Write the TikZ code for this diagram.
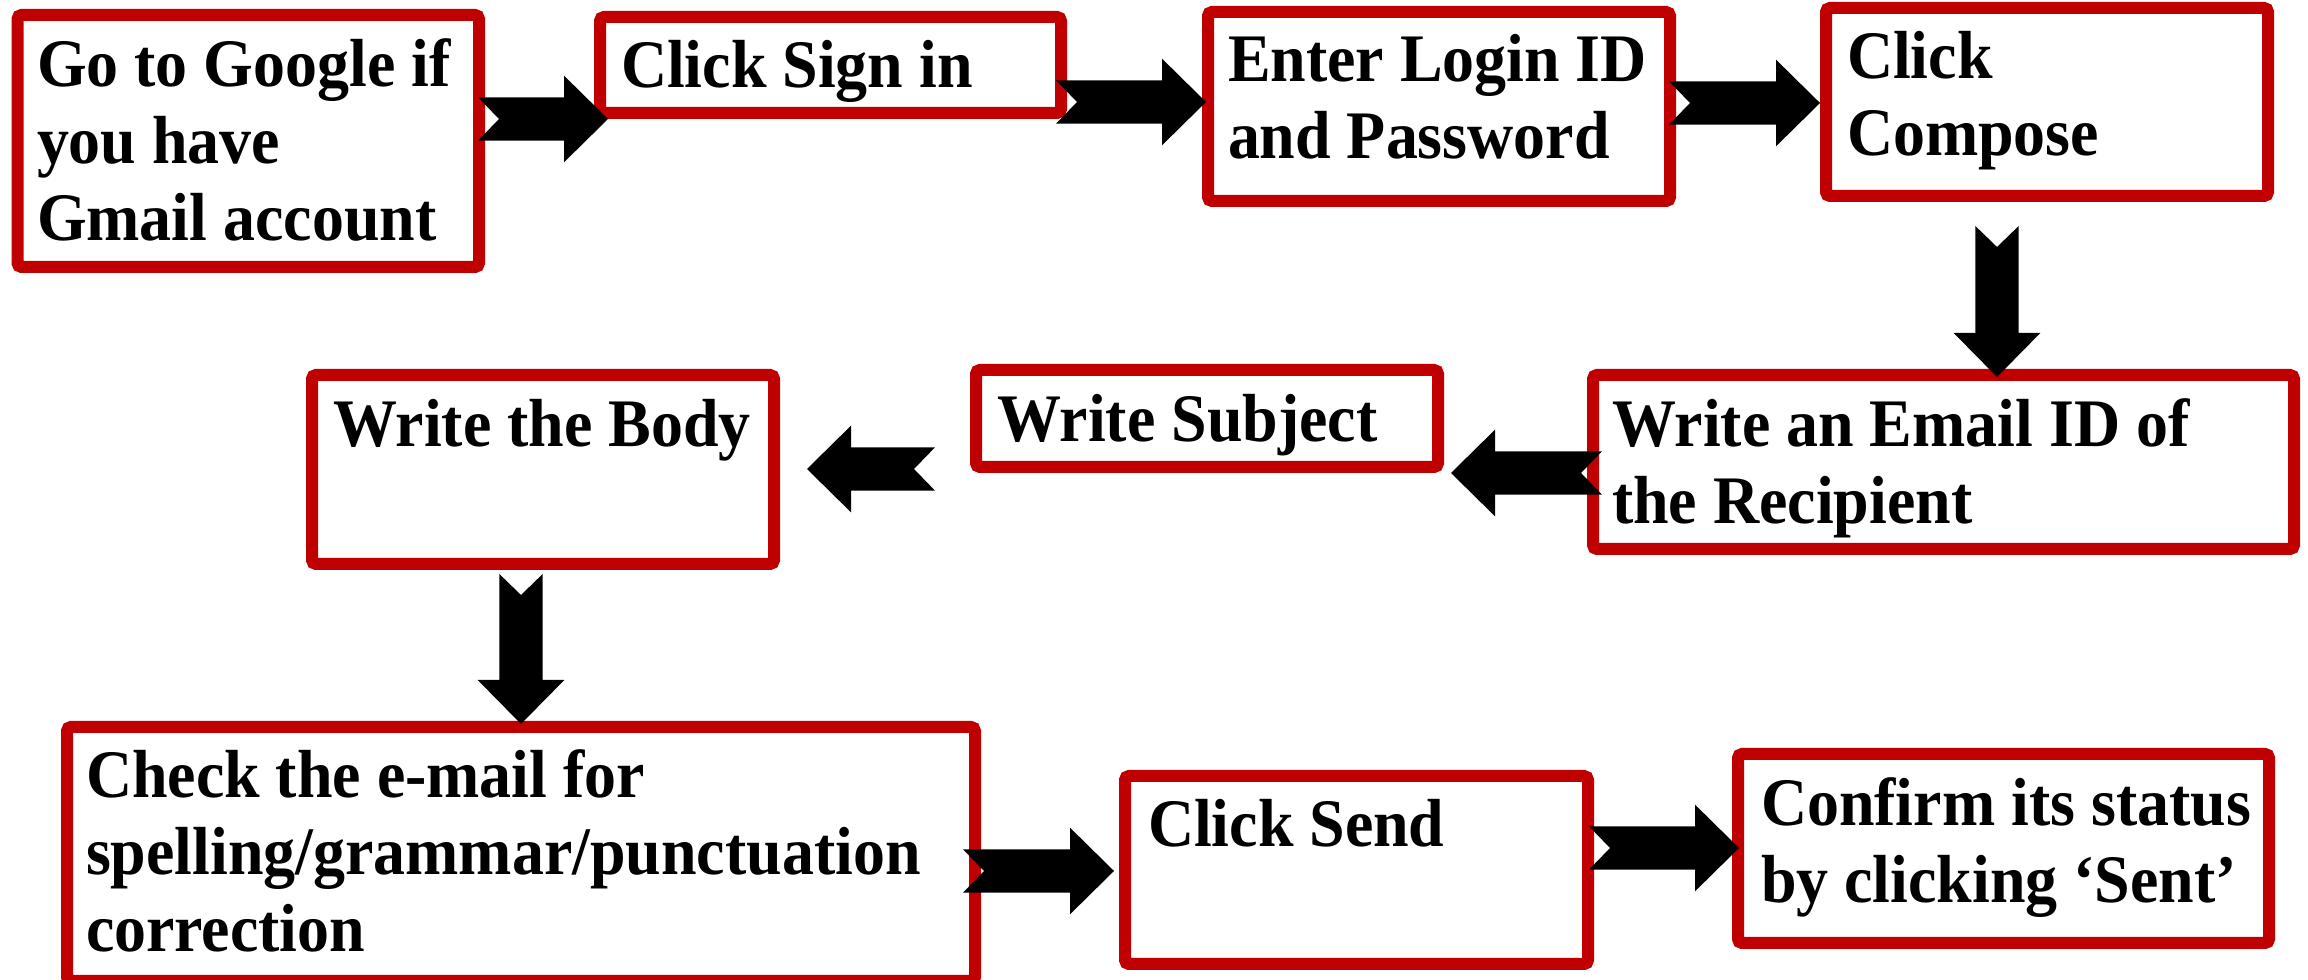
\documentclass[tikz,border=0pt]{standalone}
\usepackage{fontspec}
\setmainfont{Liberation Serif}[FakeStretch=0.94]
\usetikzlibrary{calc,fit}
\definecolor{boxred}{HTML}{C00000}
\newcommand{\steplines}[1]{\begin{tabular}[t]{@{}l@{}}#1\end{tabular}}
\begin{document}
\begin{tikzpicture}[x=0.3pt,y=-0.3pt,
  stepbox/.style={draw=boxred, line width=3.6pt, rounded corners=1.2pt, fill=white,
    rectangle, inner sep=0pt, outer sep=0pt},
  steptext/.style={anchor=base west, inner sep=0pt, outer sep=0pt,
    font=\fontsize{20.4pt}{23.1pt}\selectfont\bfseries},
  chev/.style={fill=black, draw=none, to path={
    let \p1=(\tikztostart), \p2=(\tikztotarget),
        \n1={veclen(\x2-\x1,\y2-\y1)},
        \n2={(\x2-\x1)/\n1}, \n3={(\y2-\y1)/\n1} in
    ({\x1-6.5pt*\n3},{\y1+6.5pt*\n2})
    -- ({\x1+6.3pt*\n2},{\y1+6.3pt*\n3})
    -- ({\x1+6.5pt*\n3},{\y1-6.5pt*\n2})
    -- ({\x2-13.2pt*\n2+6.5pt*\n3},{\y2-13.2pt*\n3-6.5pt*\n2})
    -- ({\x2-13.2pt*\n2+13pt*\n3},{\y2-13.2pt*\n3-13pt*\n2})
    -- (\p2)
    -- ({\x2-13.2pt*\n2-13pt*\n3},{\y2-13.2pt*\n3+13pt*\n2})
    -- ({\x2-13.2pt*\n2-6.5pt*\n3},{\y2-13.2pt*\n3+6.5pt*\n2})
    -- cycle}}]
\fill[white] (0,0) rectangle (2308,980);
\useasboundingbox (0,0) rectangle (2308,980);

% boxes (border centre lines)
\node[stepbox, fit={(17.5,15) (479,267)}] (b1) {};
\node[stepbox, fit={(600,17) (1061,113)}] (b2) {};
\node[stepbox, fit={(1208,12) (1670,201)}] (b3) {};
\node[stepbox, fit={(1826,8) (2268,196)}] (b4) {};
\node[stepbox, fit={(1593,375) (2294,549)}] (b5) {};
\node[stepbox, fit={(976,370) (1438,467)}] (b6) {};
\node[stepbox, fit={(312,375) (774,564)}] (b7) {};
\node[stepbox, fit={(67,727) (975,981)}] (b8) {};
\node[stepbox, fit={(1125,776) (1588,964)}] (b9) {};
\node[stepbox, fit={(1738,754) (2269,943)}] (b10) {};

% texts
\node[steptext] (t1) at (37,87) {\steplines{Go to Google if\\you have\\Gmail account}};
\node[steptext] (t2) at (621,88) {\steplines{Click Sign in}};
\node[steptext] (t3) at (1228,82) {\steplines{Enter Login ID\\and Password}};
\node[steptext] (t4) at (1847,79) {\steplines{Click\\Compose}};
\node[steptext] (t5) at (1612,447) {\steplines{Write an Email ID of\\the Recipient}};
\node[steptext] (t6) at (997,442) {\steplines{Write Subject}};
\node[steptext] (t7) at (333,447) {\steplines{Write the Body}};
\node[steptext] (t8) at (86,798) {\steplines{Check the e-mail for\\spelling/grammar/punctuation\\correction}};
\node[steptext] (t9) at (1148,847) {\steplines{Click Send}};
\node[steptext] (t10) at (1761,826) {\steplines{Confirm its status\\by clicking ‘Sent’}};

% connectors
\draw[chev] ($(b1.east |- 0,119)+(-1,0)$) to ($(b2.west |- 0,119)+(8,0)$);
\draw[chev] ($(b2.east |- 0,102)+(-5,0)$) to ($(b3.west |- 0,102)+(-2,0)$);
\draw[chev] ($(b3.east |- 0,103)+(-1,0)$) to ($(b4.west |- 0,103)+(-6,0)$);
\draw[chev] ($(b4.south -| 1997,0)+(0,30)$) to ($(b5.north -| 1997,0)+(0,2)$);
\draw[chev] ($(b5.west |- 0,473)+(9,0)$) to ($(b6.east |- 0,473)+(13,0)$);
\draw[chev] ($(b6.west |- 0,469)+(-41,0)$) to ($(b7.east |- 0,469)+(33,0)$);
\draw[chev] ($(b7.south -| 521,0)+(0,10)$) to ($(b8.north -| 521,0)+(0,-3)$);
\draw[chev] ($(b8.east |- 0,871)+(-12,0)$) to ($(b9.west |- 0,871)+(-11,0)$);
\draw[chev] ($(b9.east |- 0,848)+(1,0)$) to ($(b10.west |- 0,848)+(1,0)$);
\end{tikzpicture}
\end{document}
